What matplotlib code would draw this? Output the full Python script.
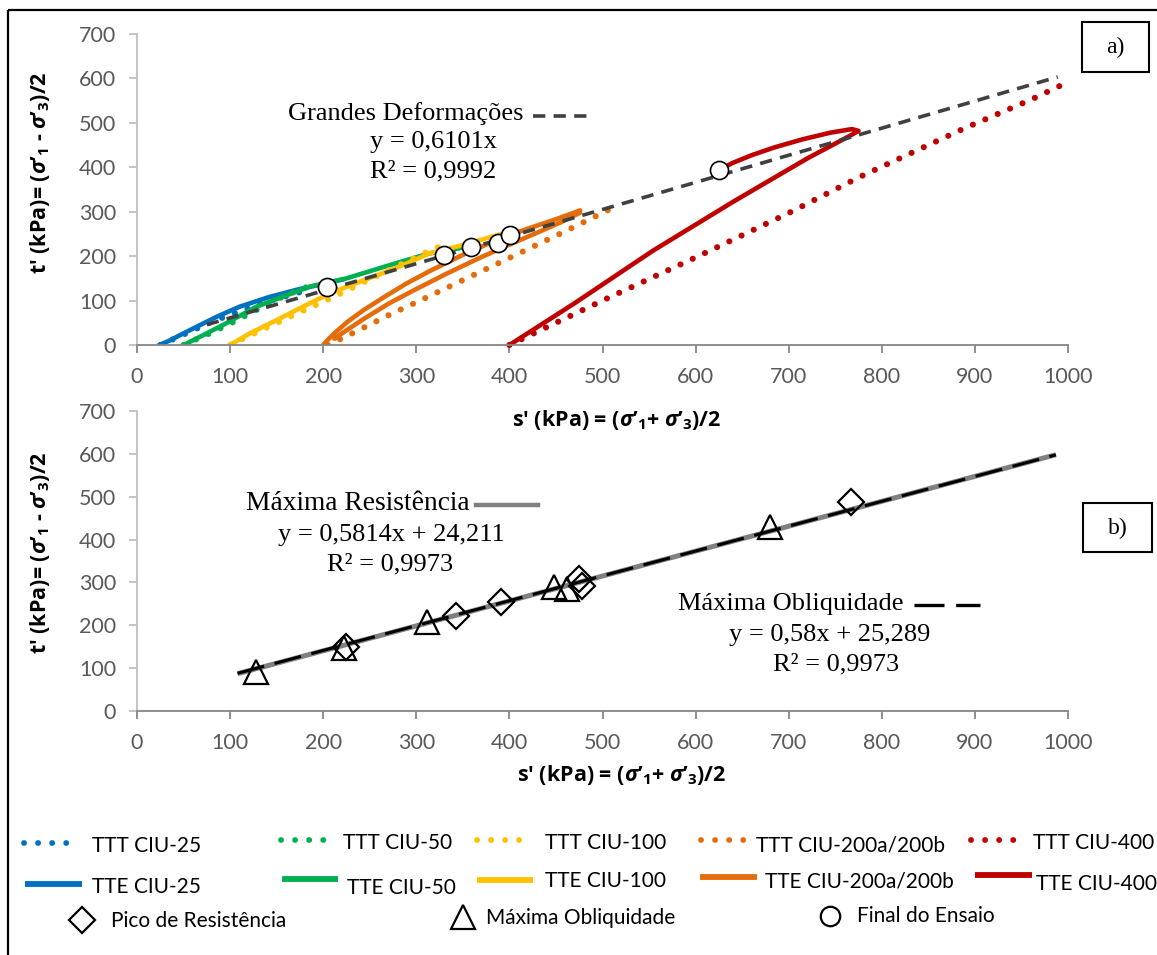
import matplotlib
matplotlib.use("Agg")
import matplotlib.pyplot as plt
from matplotlib.patches import Rectangle

# ---------------- data ----------------
# (a) stress paths  s' (kPa), t' (kPa)
ttt25_s = [25, 40, 60, 80, 100, 120, 140, 160, 180]
ttt25_t = [0, 14, 33, 52, 68, 83, 97, 110, 122]
tte25_s = [24, 35, 46, 64, 85, 110, 142, 171, 203, 222]
tte25_t = [0, 10, 22, 41, 63, 86, 108, 124, 139, 148]

ttt50_s = [50, 65, 80, 100, 120, 140, 160, 183]
ttt50_t = [0, 14, 28, 48, 70, 92, 112, 131]
tte50_s = [50, 71, 96, 128, 157, 185, 225, 278, 314, 355]
tte50_t = [0, 22, 49, 86, 109, 131, 150, 184, 206, 221]

ttt100_s = [100, 118, 140, 165, 190, 215, 246, 280, 310, 330]
ttt100_t = [0, 18, 40, 64, 88, 112, 144, 178, 208, 226]
tte100_s = [100, 121, 150, 178, 207, 235, 278, 314, 350, 400]
tte100_t = [0, 26, 56, 86, 116, 139, 173, 206, 225, 255]

ttt200_s = [205, 232, 273, 300, 350, 400, 430, 462, 490, 518]
ttt200_t = [0, 27, 70, 96, 146, 196, 226, 258, 287, 316]
tte200a_s = [200, 206, 214, 226, 243, 264, 289, 314, 350, 386, 420, 450, 476]
tte200a_t = [0, 14, 30, 52, 78, 106, 138, 166, 203, 236, 262, 283, 303]
tte200b_s = [212, 220, 243, 271, 300, 332, 368, 400, 430, 455, 476]
tte200b_t = [14, 26, 58, 94, 126, 160, 196, 226, 253, 276, 298]

ttt400_s = [400, 500, 603, 700, 776, 889, 960, 998]
ttt400_t = [0, 100, 200, 297, 378, 488, 552, 590]
tte400_s = [400, 470, 554, 640, 720, 765, 775, 768, 745, 715, 685, 660, 640, 625]
tte400_t = [0, 94, 212, 322, 420, 470, 482, 486, 478, 463, 445, 427, 410, 394]

final_s = [204, 330, 359, 388, 401, 625]
final_t = [130, 203, 220, 230, 248, 394]

# large-deformation trend line  y = 0.6101 x
gd_slope = 0.6101
gd_range = [75, 989]

# (b) peak strength and maximum obliquity points
pico_s = [225, 343, 391, 475, 478, 767]
pico_t = [150, 222, 254, 308, 292, 488]
obliq_s = [128, 222, 311, 448, 462, 680]
obliq_t = [90, 148, 207, 290, 284, 430]

mr_coef = (0.5814, 24.211)   # Máxima Resistência
mo_coef = (0.58, 25.289)     # Máxima Obliquidade
trend_range = [108, 987]

x_ticks = list(range(0, 1001, 100))
y_ticks = list(range(0, 701, 100))

# ---------------- style ----------------
W, H = 1157, 955
C_BLUE, C_GREEN, C_YEL, C_OR, C_RED = "#0070C0", "#00B050", "#FFC000", "#E46C0A", "#C00000"
SANS = ["Lato", "DejaVu Sans"]
SERIF = ["Liberation Serif", "DejaVu Serif"]
plt.rcParams["font.family"] = SANS
plt.rcParams["mathtext.fontset"] = "custom"
plt.rcParams["mathtext.rm"] = "Open Sans:bold"
plt.rcParams["mathtext.it"] = "Open Sans:italic:bold"
plt.rcParams["mathtext.bf"] = "Open Sans:bold"

DOT = dict(linestyle=(0, (0.01, 2.2)), dash_capstyle="round", lw=4.4)
SOLID = dict(linestyle="-", lw=3.3, solid_capstyle="round")

fig = plt.figure(figsize=(W / 100, H / 100), dpi=100)


def fbox(x0, y0, x1, y1):
    return [x0 / W, 1 - y1 / H, (x1 - x0) / W, (y1 - y0) / H]


def style_axes(ax):
    ax.set_xlim(0, 1000)
    ax.set_ylim(0, 700)
    ax.set_xticks(x_ticks)
    ax.set_yticks(y_ticks)
    for sp in ("top", "right"):
        ax.spines[sp].set_visible(False)
    ax.spines["left"].set_color("#BFBFBF")
    ax.spines["bottom"].set_color("#868686")
    ax.spines["left"].set_linewidth(1.3)
    ax.spines["bottom"].set_linewidth(1.3)
    ax.tick_params(axis="y", direction="out", length=6, width=1.3, color="#BFBFBF",
                   labelsize=15.5, labelcolor="#595959", pad=9)
    ax.tick_params(axis="x", direction="out", length=6, width=1.3, color="#868686",
                   labelsize=15.5, labelcolor="#595959", pad=10)
    ax.patch.set_alpha(0)


# ---------------- (a) ----------------
axa = fig.add_axes(fbox(137, 34, 1068, 345))
style_axes(axa)
axa.plot(ttt25_s, ttt25_t, color=C_BLUE, **DOT)
axa.plot(tte25_s, tte25_t, color=C_BLUE, **SOLID)
axa.plot(ttt50_s, ttt50_t, color=C_GREEN, **DOT)
axa.plot(tte50_s, tte50_t, color=C_GREEN, **SOLID)
axa.plot(ttt100_s, ttt100_t, color=C_YEL, **DOT)
axa.plot(tte100_s, tte100_t, color=C_YEL, **SOLID)
axa.plot(ttt200_s, ttt200_t, color=C_OR, **DOT)
axa.plot(tte200a_s, tte200a_t, color=C_OR, **SOLID)
axa.plot(tte200b_s, tte200b_t, color=C_OR, **SOLID)
axa.plot(ttt400_s, ttt400_t, color=C_RED, clip_on=False, **DOT)
axa.plot(tte400_s, tte400_t, color=C_RED, **SOLID)
gd_y = [gd_slope * v for v in gd_range]
axa.plot(gd_range, gd_y, color="#404040", lw=2.6, linestyle=(0, (3.4, 2.3)), zorder=4)
axa.plot(final_s, final_t, linestyle="none", marker="o", ms=13, mfc="white",
         mec="black", mew=1.2, zorder=5)

# ---------------- (b) ----------------
axb = fig.add_axes(fbox(137, 411, 1068, 711))
style_axes(axb)
mr_y = [mr_coef[0] * v + mr_coef[1] for v in trend_range]
mo_y = [mo_coef[0] * v + mo_coef[1] for v in trend_range]
axb.plot(trend_range, mr_y, color="#808080", lw=3.6, solid_capstyle="butt", zorder=2)
axb.plot(trend_range, mo_y, color="black", lw=2.2, linestyle=(0, (9, 3.5)), zorder=3)
axb.plot(pico_s, pico_t, linestyle="none", marker="D", ms=13.5, mfc="none",
         mec="black", mew=1.6, zorder=4)
axb.plot(obliq_s, obliq_t, linestyle="none", marker="^", ms=17, mfc="none",
         mec="black", mew=1.6, zorder=4)

# ---------------- overlay: labels, annotations, legend, border ----------------
ov = fig.add_axes([0, 0, 1, 1])
ov.set_xlim(0, W)
ov.set_ylim(H, 0)
ov.axis("off")
ov.patch.set_alpha(0)

xlabel = r"s' (kPa) = ($\sigma$’$_1$+ $\sigma$’$_3$)/2"
ylabel = r"t' (kPa)= ($\sigma$’$_1$ - $\sigma$’$_3$)/2"
lab_kw = dict(fontsize=15.5, fontweight="bold", family=["Open Sans", "DejaVu Sans"], color="black")
ov.text(617, 420, xlabel, ha="center", va="center", **lab_kw)
ov.text(622, 775, xlabel, ha="center", va="center", **lab_kw)
ov.text(40, 173, ylabel, ha="center", va="center", rotation=90, **lab_kw)
ov.text(40, 553, ylabel, ha="center", va="center", rotation=90, **lab_kw)

ser_kw = dict(family=SERIF, fontsize=19, color="black", va="center")
ov.text(524, 114, "Grandes Deformações", ha="right", **ser_kw)
ov.plot([533, 593], [116, 116], color="#404040", lw=2.6, linestyle=(0, (3.4, 2.3)))
ov.text(433, 142, "y = 0,6101x", ha="center", **ser_kw)
ov.text(433, 171, "R² = 0,9992", ha="center", **ser_kw)

ov.text(470, 503, "Máxima Resistência", ha="right", family=SERIF, fontsize=19.8,
        color="black", va="center")
ov.plot([476, 538], [505, 505], color="#808080", lw=3.2)
ov.text(391, 535, "y = 0,5814x + 24,211", ha="center", **ser_kw)
ov.text(390, 564, "R² = 0,9973", ha="center", **ser_kw)

ov.text(903, 604, "Máxima Obliquidade", ha="right", **ser_kw)
ov.plot([914, 980], [605, 605], color="black", lw=2.4, linestyle=(0, (9, 3.5)))
ov.text(830, 635, "y = 0,58x + 25,289", ha="center", **ser_kw)
ov.text(836, 664, "R² = 0,9973", ha="center", **ser_kw)

# panel tags
ov.add_patch(Rectangle((1082, 22), 67, 50, fill=False, ec="black", lw=1.5))
ov.text(1115.5, 47, "a)", ha="center", va="center", family=SERIF, fontsize=17)
ov.add_patch(Rectangle((1083, 503), 69, 49, fill=False, ec="black", lw=1.5))
ov.text(1117.5, 528, "b)", ha="center", va="center", family=SERIF, fontsize=17)

# legend (manually laid out)
leg_font = dict(fontsize=15, color="black", va="center", family=SANS)
leg_lines = [
    # (x0, x1, y_line, x_text, y_text, color, dotted, label)
    (24, 74, 843, 92, 846, C_BLUE, True, "TTT CIU-25"),
    (281, 331, 840, 343, 843, C_GREEN, True, "TTT CIU-50"),
    (477, 527, 840, 545, 843, C_YEL, True, "TTT CIU-100"),
    (701, 751, 840, 756, 845, C_OR, True, "TTT CIU-200a/200b"),
    (971, 1021, 840, 1033, 843, C_RED, True, "TTT CIU-400"),
    (25, 82, 884, 92, 887, C_BLUE, False, "TTE CIU-25"),
    (282, 338, 879, 347, 888, C_GREEN, False, "TTE CIU-50"),
    (477, 533, 880, 545, 881, C_YEL, False, "TTE CIU-100"),
    (700, 757, 877, 765, 881, C_OR, False, "TTE CIU-200a/200b"),
    (975, 1032, 875, 1036, 884, C_RED, False, "TTE CIU-400"),
]
for x0, x1, yl, xt, yt, col, dotted, lab in leg_lines:
    if dotted:
        ov.plot([x0, x1], [yl, yl], color=col, linestyle=(0, (0.01, 2.4)),
                dash_capstyle="round", lw=4.2)
    else:
        ov.plot([x0, x1], [yl, yl], color=col, lw=4.2, solid_capstyle="butt")
    ov.text(xt, yt, lab, ha="left", **leg_font)

ov.plot([82], [920], marker="D", ms=13.5, mfc="none", mec="black", mew=1.6, linestyle="none")
ov.text(111, 921, "Pico de Resistência", ha="left", **leg_font)
ov.plot([463], [917], marker="^", ms=17, mfc="none", mec="black", mew=1.6, linestyle="none")
ov.text(486, 918, "Máxima Obliquidade", ha="left", **leg_font)
ov.plot([830], [916], marker="o", ms=14, mfc="white", mec="black", mew=1.6, linestyle="none")
ov.text(857, 916, "Final do Ensaio", ha="left", **leg_font)

# outer frame (right and bottom edges fall outside the image)
ov.add_patch(Rectangle((8, 10), W + 20, H + 20, fill=False, ec="black", lw=1.6, clip_on=False))

fig.savefig("out.png", dpi=100)
